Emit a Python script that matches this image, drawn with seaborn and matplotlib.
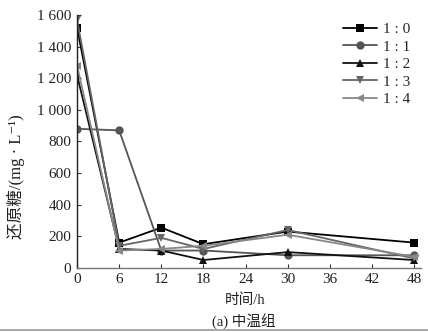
import matplotlib
matplotlib.use("Agg")
import matplotlib.pyplot as plt
import seaborn as sns
import pandas as pd
from matplotlib.lines import Line2D

hours = [0, 6, 12, 18, 30, 48]
ratios = ["1 : 0", "1 : 1", "1 : 2", "1 : 3", "1 : 4"]
s_1_0 = [1520, 160, 255, 150, 230, 160]
s_1_1 = [880, 870, 110, 110, 80, 80]
s_1_2 = [1220, 120, 110, 50, 100, 50]
s_1_3 = [1570, 140, 190, 120, 240, 60]
s_1_4 = [1280, 110, 120, 140, 210, 70]
series = [s_1_0, s_1_1, s_1_2, s_1_3, s_1_4]
xticks = [0, 6, 12, 18, 24, 30, 36, 42, 48]
yticks = [0, 200, 400, 600, 800, 1000, 1200, 1400, 1600]
ytick_labels = ["0", "200", "400", "600", "800", "1 000", "1 200", "1 400", "1 600"]

rows = []
for r, vals in zip(ratios, series):
    for h, v in zip(hours, vals):
        rows.append({"time": h, "sugar": v, "ratio": r})
df = pd.DataFrame(rows)

sns.set_theme(style="ticks")
FAM = ['Liberation Serif', 'Noto Sans CJK SC', 'DejaVu Sans']
plt.rcParams['font.family'] = FAM

colors = ["#000000", "#555555", "#111111", "#666666", "#888888"]
markers = ["s", "o", "^", "v", "<"]

fig = plt.figure(figsize=(4.28, 3.32), dpi=100)
ax = fig.add_axes([0.18, 0.193, 0.804, 0.762])

sns.lineplot(data=df, x="time", y="sugar", hue="ratio", style="ratio",
             palette=dict(zip(ratios, colors)), markers=dict(zip(ratios, markers)),
             dashes=False, markersize=6, linewidth=1.3, markeredgewidth=0,
             ax=ax, legend=False)

ax.set_xlim(0, 49)
ax.set_ylim(0, 1600)
ax.set_xticks(xticks)
ax.set_xticklabels([str(t) for t in xticks])
ax.set_yticks(yticks)
ax.set_yticklabels(ytick_labels)
ax.tick_params(direction="in", length=3, width=0.8, labelsize=11, colors="#333333",
               labelcolor="#222222", pad=4)
for s in ["top", "right"]:
    ax.spines[s].set_visible(False)
ax.spines["left"].set_color("#222222")
ax.spines["bottom"].set_color("#777777")
ax.spines["left"].set_linewidth(1.0)
ax.spines["bottom"].set_linewidth(1.0)

ax.set_xlabel("")
ax.set_ylabel("还原糖/(mg · L⁻¹)", fontsize=12, color="#222222")
ax.yaxis.set_label_coords(-0.15, 0.36)
fig.text(0.572, 0.095, "时间/h", ha="center", va="center", fontsize=10.5, color="#222222")
fig.text(0.57, 0.033, "(a) 中温组", ha="center", va="center", fontsize=10.5, color="#222222")

handles = [Line2D([0], [0], color=c, marker=m, markersize=6, linewidth=1.3, markeredgewidth=0)
           for c, m in zip(colors, markers)]
leg = ax.legend(handles, ratios, loc="upper right", bbox_to_anchor=(0.985, 0.995), frameon=False,
                fontsize=11, handlelength=2.2, handletextpad=0.4, labelspacing=0.25,
                borderaxespad=0)

fig.add_artist(Line2D([0.0, 1.0], [0.006, 0.006], color="#999999", linewidth=1.2,
                      transform=fig.transFigure))

fig.savefig("out.png", dpi=100)
